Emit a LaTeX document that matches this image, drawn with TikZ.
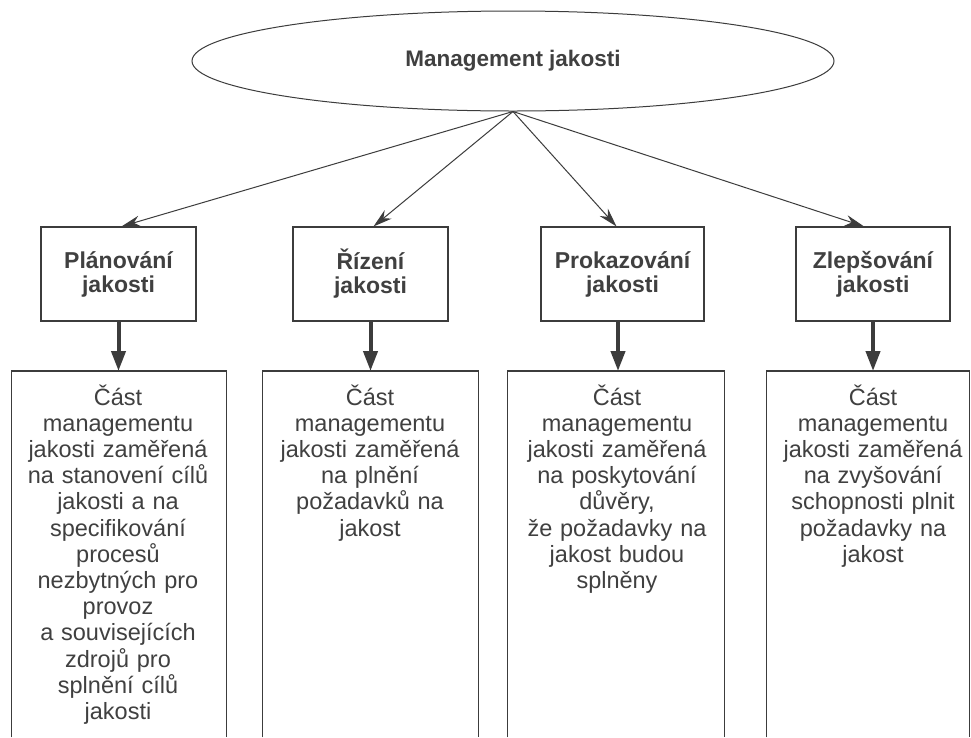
\documentclass[tikz,border=0pt]{standalone}
\usepackage{fontspec}
\setmainfont{Liberation Sans}
\usetikzlibrary{shapes.geometric,arrows.meta}
\definecolor{linec}{HTML}{3C3C3C}
\definecolor{textc}{HTML}{404040}
\begin{document}
\begin{tikzpicture}[x=1pt,y=-1pt,
  ellnode/.style={ellipse, draw=linec, line width=1pt, minimum width=642pt, minimum height=100pt, inner sep=0pt,
    font=\bfseries\fontsize{22.5}{24}\selectfont, text=textc},
  topbox/.style={draw=linec, line width=1.1pt, minimum width=155pt, minimum height=94pt, inner sep=0pt,
    font=\bfseries\fontsize{23}{24}\selectfont, text=textc, align=center},
  descbox/.style={minimum height=366pt, inner sep=0pt, anchor=north},
  boxline/.style={draw=linec, line width=1.1pt},
  desc/.style={anchor=base, text width=215pt, align=center, inner sep=0pt,
    font=\fontsize{23.5}{26.2}\selectfont, text=textc},
  thinarrow/.style={draw=linec, line width=1pt, -{Stealth[length=19pt,width=11pt]}},
  thickarrow/.style={draw=linec, line width=4pt, -{Triangle[length=20pt,width=14pt]}}]
\useasboundingbox (0,0) rectangle (971,737);
\fill[white] (0,0) rectangle (971,737);

\node[ellnode] (top) at (513,61) {Management jakosti};

\node[topbox] (b1) at (118.5,274) {Plánování\\jakosti};
\node[topbox] (b2) at (370.5,274) {Řízení\\jakosti};
\node[topbox, minimum width=163pt] (b3) at (622.5,274) {Prokazování\\jakosti};
\node[topbox, minimum width=154pt] (b4) at (873,274) {Zlepšování\\jakosti};

\draw[thinarrow] (top.south) -- ([xshift=3pt]b1.north);
\draw[thinarrow] (top.south) -- ([xshift=3pt]b2.north);
\draw[thinarrow] (top.south) -- ([xshift=-6pt]b3.north);
\draw[thinarrow] (top.south) -- ([xshift=-9pt]b4.north);

\node[descbox, minimum width=214pt] (d1) at (119,371) {};
\node[descbox, minimum width=215pt] (d2) at (370.5,371) {};
\node[descbox, minimum width=216pt] (d3) at (616,371) {};
\node[descbox, minimum width=202pt] (d4) at (868,371) {};

\foreach \d in {d1,d2,d3,d4}
  \draw[boxline] (\d.south west) -- (\d.north west) -- (\d.north east) -- (\d.south east);

\draw[thickarrow] (b1.south) -- (b1.south |- d1.north);
\draw[thickarrow] (b2.south) -- (b2.south |- d2.north);
\draw[thickarrow] ([xshift=-4.5pt]b3.south) -- ([xshift=-4.5pt]b3.south |- d3.north);
\draw[thickarrow] (b4.south) -- (b4.south |- d4.north);

\node[desc] (t1) at (118,405) {Část\\managementu\\jakosti zaměřená\\na stanovení cílů\\jakosti a na\\specifikování\\procesů\\nezbytných pro\\provoz\\a souvisejících\\zdrojů pro\\splnění cílů\\jakosti};
\node[desc] (t2) at (370,405) {Část\\managementu\\jakosti zaměřená\\na plnění\\požadavků na\\jakost};
\node[desc] (t3) at (617,405) {Část\\managementu\\jakosti zaměřená\\na poskytování\\důvěry,\\že požadavky na\\jakost budou\\splněny};
\node[desc] (t4) at (873,405) {Část\\managementu\\jakosti zaměřená\\na zvyšování\\schopnosti plnit\\požadavky na\\jakost};
\end{tikzpicture}
\end{document}
